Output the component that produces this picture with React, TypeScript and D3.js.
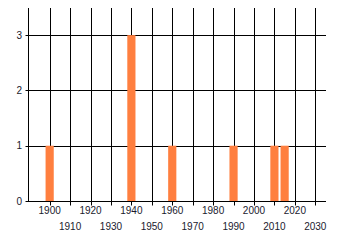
import React from "react";
import * as d3 from "d3";

const years = [1900, 1940, 1960, 1990, 2010, 2015];
const counts = [1, 3, 1, 1, 1, 1];
const xTicks = [1900, 1910, 1920, 1930, 1940, 1950, 1960, 1970, 1980, 1990, 2000, 2010, 2020, 2030];
const yTicks = [0, 1, 2, 3];

const W = 340;
const H = 245;

export default function App() {
  const x = d3.scaleLinear().domain([1889.4, 2035.1]).range([28, 325.7]);
  const y = d3.scaleLinear().domain([0, 3.5]).range([201, 7.5]);
  const barHalf = 2;
  const px = (v: number) => Math.round(v) + 0.5;
  const left = px(x.domain()[0] === 1889.4 ? 28 : 28);
  const right = Math.round(x(2035.1));
  const bottom = px(y(0));
  const top = Math.round(y(3.5));
  return (
    <svg
      width={W}
      height={H}
      style={{ position: "absolute", left: 0, top: 0, background: "#fff" }}
      fontFamily="'Liberation Sans', Arial, sans-serif"
      fontSize={10}
    >
      {xTicks.map((t) => (
        <line key={"vx" + t} x1={px(x(t))} x2={px(x(t))} y1={top} y2={bottom + 4} stroke="#000" strokeWidth={1} />
      ))}
      {yTicks.map((t) => (
        <line key={"hy" + t} x1={left - 3} x2={right} y1={px(y(t))} y2={px(y(t))} stroke="#000" strokeWidth={1} />
      ))}
      <line x1={left} x2={left} y1={top} y2={bottom} stroke="#000" strokeWidth={1} />
      {years.map((yr, i) => (
        <rect
          key={"b" + yr}
          x={x(yr - barHalf)}
          width={x(yr + barHalf) - x(yr - barHalf)}
          y={y(counts[i])}
          height={y(0) - y(counts[i])}
          fill="#FF7F3F"
        />
      ))}
      <line x1={left} x2={right} y1={bottom} y2={bottom} stroke="#000" strokeWidth={1} />
      {xTicks.map((t, i) => (
        <text key={"tx" + t} x={x(t)} y={i % 2 === 0 ? 214 : 230} textAnchor="middle" fill="#1a1a2e">
          {t}
        </text>
      ))}
      {yTicks.map((t) => (
        <text key={"ty" + t} x={22} y={y(t)} dy="0.36em" textAnchor="end" fill="#1a1a2e">
          {t}
        </text>
      ))}
    </svg>
  );
}
